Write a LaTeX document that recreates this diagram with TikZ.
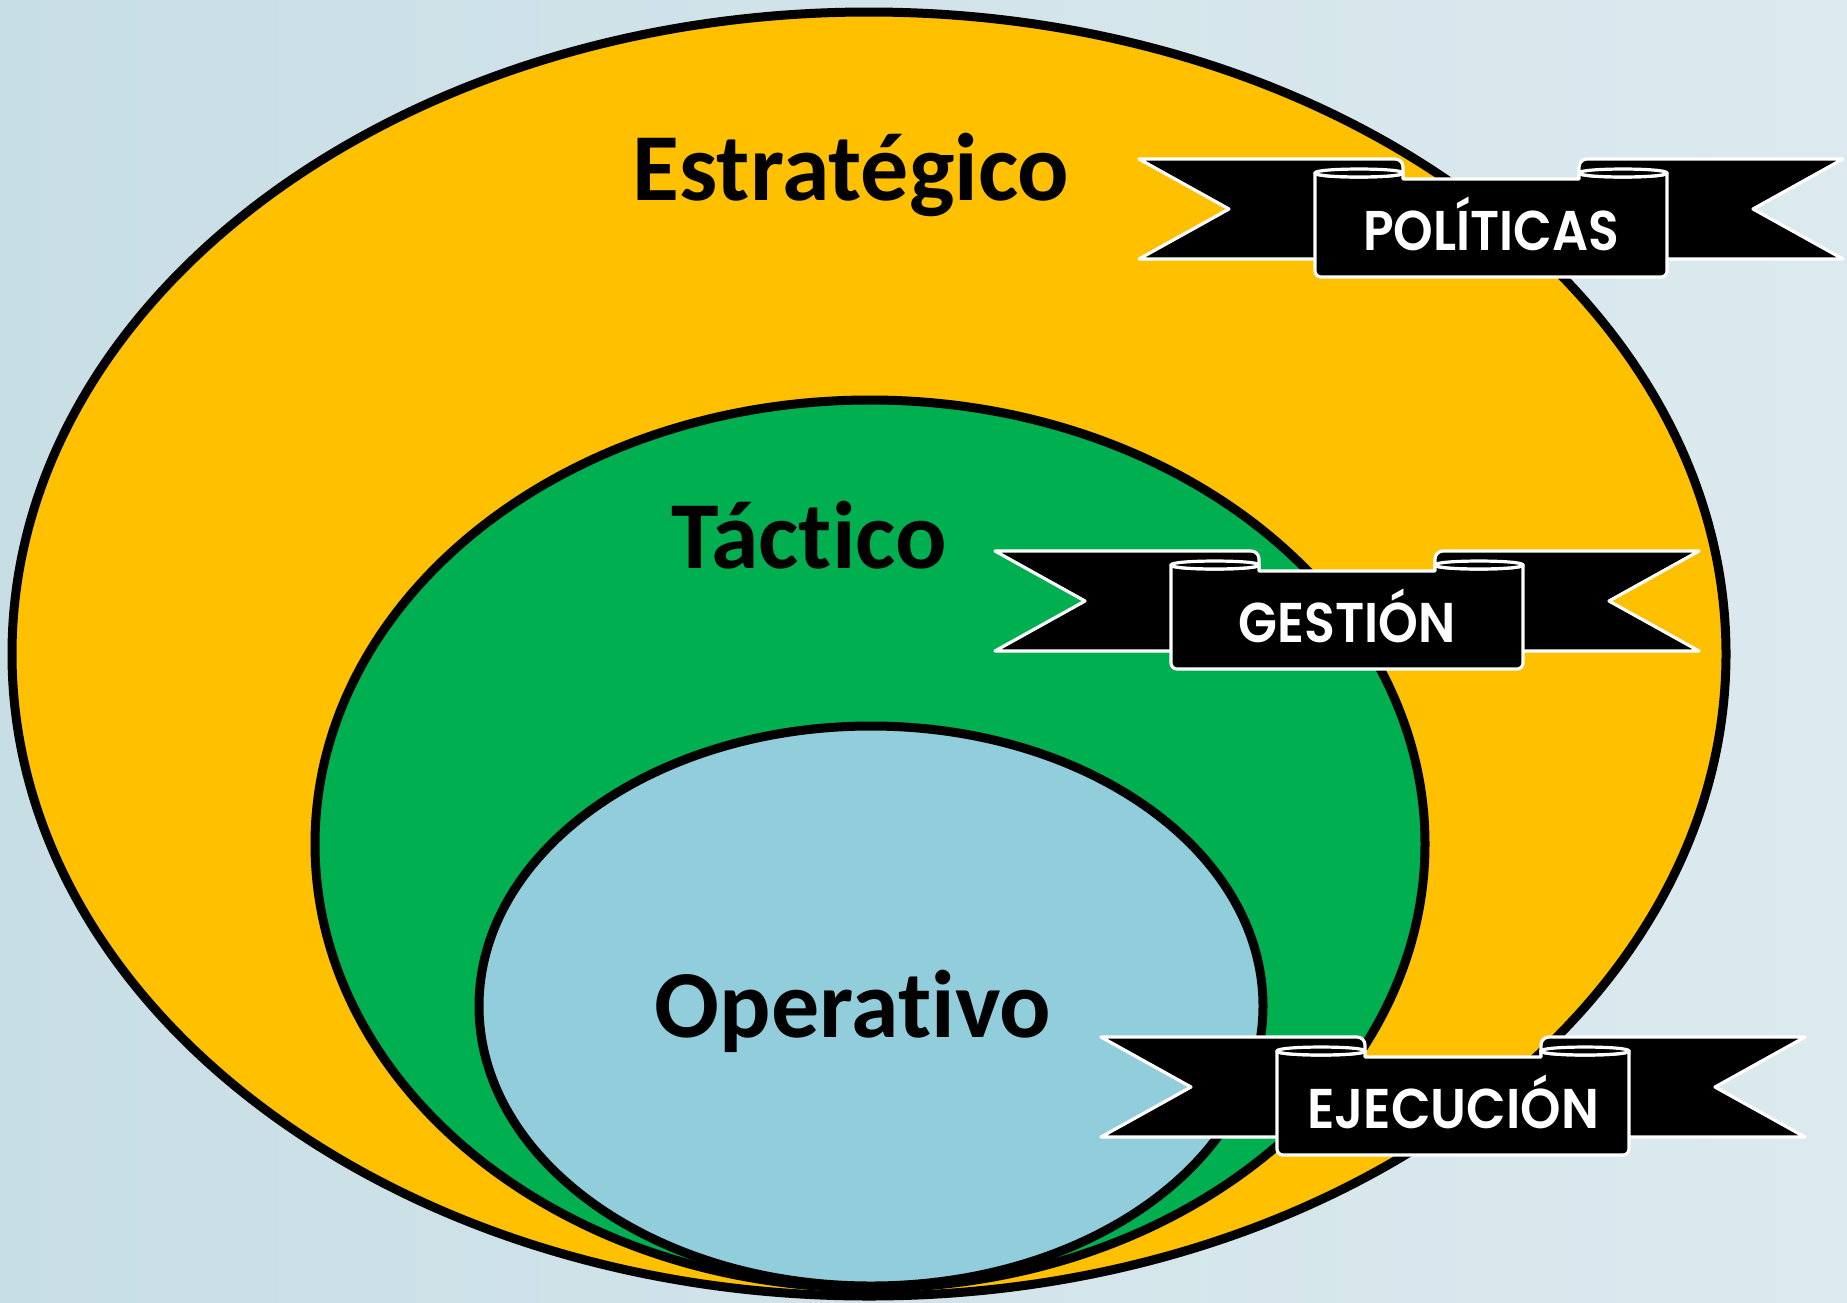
\documentclass[tikz,border=0pt]{standalone}
\usepackage{fontspec}
\setmainfont{Carlito}[Ligatures={NoCommon}]
\newfontfamily\ribfont{Poppins SemiBold}[Ligatures={NoCommon}]
\usepackage{graphicx}
\definecolor{yel}{HTML}{FFC000}
\definecolor{grn}{HTML}{00B050}
\definecolor{lbl}{HTML}{92CDDC}
\definecolor{bgA}{HTML}{C8DEE5}
\definecolor{bgB}{HTML}{DCEAEF}
\tikzset{
 ring/.style={draw=black, line width=4.5pt},
 lvl/.style={font=\fontsize{48}{50}\selectfont\bfseries, text=black, anchor=base, inner sep=0pt},
 ribpart/.style={fill=black, draw=white, line width=1.6pt, line join=round},
 ribtxt/.style={text=white, anchor=base, inner sep=0pt, font=\ribfont\fontsize{28}{30}\selectfont},
}
\newcommand\ribbon[5]{%
 \begin{scope}[shift={(#2,#3)}]
  \draw[ribpart] (0,0) [rounded corners=4pt] -- (264,0) -- (264,50) [sharp corners] -- (264,100) -- (0,100) -- (90,50) -- cycle;
  \draw[ribpart] (704,0) [rounded corners=4pt] -- (440,0) -- (440,50) [sharp corners] -- (440,100) -- (704,100) -- (614,50) -- cycle;
  \draw[ribpart] (176,14) [rounded corners=3pt] -- (176,118) -- (528,118) -- (528,60) [sharp corners] -- (528,14) .. controls (528,19.3) and (440,19.3) .. (440,14) -- (440,20) -- (264,20) -- (264,14) .. controls (264,19.3) and (176,19.3) .. (176,14) -- cycle;
  \draw[ribpart] (176,14) .. controls (176,8.7) and (264,8.7) .. (264,14) .. controls (264,19.3) and (176,19.3) .. (176,14) -- cycle;
  \draw[ribpart] (440,14) .. controls (440,8.7) and (528,8.7) .. (528,14) .. controls (528,19.3) and (440,19.3) .. (440,14) -- cycle;
  \node[ribtxt] (#1) at (352,91) {\resizebox{#4}{\height}{#5}};
 \end{scope}}
\begin{document}
\begin{tikzpicture}[x=0.5pt,y=-0.5pt]
\useasboundingbox (0,0) rectangle (1847,1302);
\fill[left color=bgA, right color=bgB] (0,0) rectangle (1847,1302);
\draw[ring, fill=yel] (869,654) ellipse [x radius=428.5pt, y radius=321pt];
\draw[ring, fill=grn] (870,844) ellipse [x radius=277.5pt, y radius=222pt];
\draw[ring, fill=lbl] (871,1006) ellipse [x radius=196pt, y radius=140pt];
\node[lvl] (estr) at (851,200) {Estratégico};
\node[lvl] (tact) at (809,568) {Táctico};
\node[lvl] (oper) at (853,1037) {Operativo};
\ribbon{pol}{1139}{159}{128pt}{POLÍTICAS}
\ribbon{ges}{995}{551}{108.5pt}{GESTIÓN}
\ribbon{eje}{1101}{1037}{146pt}{EJECUCIÓN}
\end{tikzpicture}
\end{document}
